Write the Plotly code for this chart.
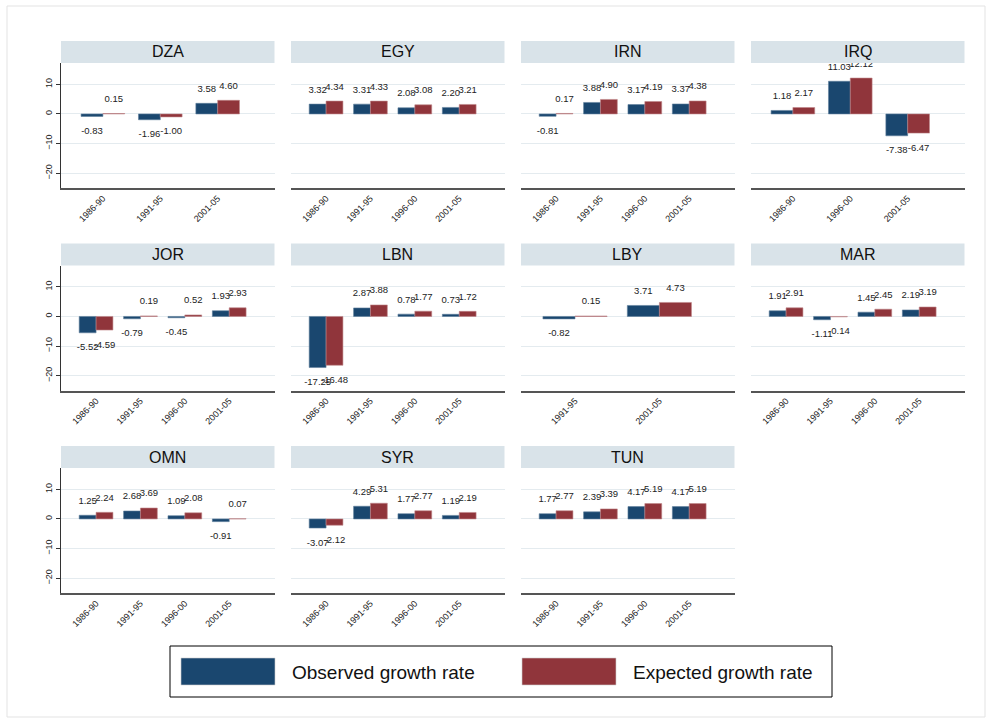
import plotly.graph_objects as go

W, H = 988, 723

# ---------------- data ----------------
countries = ["DZA", "EGY", "IRN", "IRQ", "JOR", "LBN", "LBY", "MAR", "OMN", "SYR", "TUN"]

dza_periods = ["1986-90", "1991-95", "2001-05"]
dza_observed = [-0.83, -1.96, 3.58]
dza_expected = [0.15, -1.00, 4.60]

egy_periods = ["1986-90", "1991-95", "1996-00", "2001-05"]
egy_observed = [3.32, 3.31, 2.08, 2.20]
egy_expected = [4.34, 4.33, 3.08, 3.21]

irn_periods = ["1986-90", "1991-95", "1996-00", "2001-05"]
irn_observed = [-0.81, 3.88, 3.17, 3.37]
irn_expected = [0.17, 4.90, 4.19, 4.38]

irq_periods = ["1986-90", "1996-00", "2001-05"]
irq_observed = [1.18, 11.03, -7.38]
irq_expected = [2.17, 12.12, -6.47]

jor_periods = ["1986-90", "1991-95", "1996-00", "2001-05"]
jor_observed = [-5.52, -0.79, -0.45, 1.93]
jor_expected = [-4.59, 0.19, 0.52, 2.93]

lbn_periods = ["1986-90", "1991-95", "1996-00", "2001-05"]
lbn_observed = [-17.25, 2.87, 0.78, 0.73]
lbn_expected = [-16.48, 3.88, 1.77, 1.72]

lby_periods = ["1991-95", "2001-05"]
lby_observed = [-0.82, 3.71]
lby_expected = [0.15, 4.73]

mar_periods = ["1986-90", "1991-95", "1996-00", "2001-05"]
mar_observed = [1.91, -1.11, 1.45, 2.19]
mar_expected = [2.91, -0.14, 2.45, 3.19]

omn_periods = ["1986-90", "1991-95", "1996-00", "2001-05"]
omn_observed = [1.25, 2.68, 1.09, -0.91]
omn_expected = [2.24, 3.69, 2.08, 0.07]

syr_periods = ["1986-90", "1991-95", "1996-00", "2001-05"]
syr_observed = [-3.07, 4.29, 1.77, 1.19]
syr_expected = [-2.12, 5.31, 2.77, 2.19]

tun_periods = ["1986-90", "1991-95", "1996-00", "2001-05"]
tun_observed = [1.77, 2.39, 4.17, 4.17]
tun_expected = [2.77, 3.39, 5.19, 5.19]

y_ticks = [-20, -10, 0, 10]
series_names = ["Observed growth rate", "Expected growth rate"]

panels = [
    (dza_periods, dza_observed, dza_expected),
    (egy_periods, egy_observed, egy_expected),
    (irn_periods, irn_observed, irn_expected),
    (irq_periods, irq_observed, irq_expected),
    (jor_periods, jor_observed, jor_expected),
    (lbn_periods, lbn_observed, lbn_expected),
    (lby_periods, lby_observed, lby_expected),
    (mar_periods, mar_observed, mar_expected),
    (omn_periods, omn_observed, omn_expected),
    (syr_periods, syr_observed, syr_expected),
    (tun_periods, tun_observed, tun_expected),
]

# ---------------- style ----------------
BLUE = "#1a476f"
RED = "#90353b"
HEADER = "#d9e3e9"
GRID = "#e4ebef"
FONT = "Liberation Sans, Arial, sans-serif"
TXT = "#222222"

# pads (in category units) left / right of first / last group, by group count
PADS = {2: (0.64, 0.89), 3: (0.73, 0.99), 4: (0.79, 1.02)}
BAR_W = 0.38
Y_RANGE = [-25, 17.2]
LABEL_OFF_POS = 4.7   # value-label offset in y units (~14px)
LABEL_OFF_NEG = 5.1

PANEL_W = 213.5
PANEL_H = 125
HEAD_H = 22


def px_x(x):
    return x / W


def px_y(y):
    return 1 - y / H


fig = go.Figure()
shapes = []
annotations = []
layout_axes = {}

for k, (country, (periods, obs, exp)) in enumerate(zip(countries, panels)):
    r, c = divmod(k, 4)
    left = 61 + 230 * c
    top = 63 + 202.5 * r
    n = len(periods)
    idx = list(range(n))
    ax = "" if k == 0 else str(k + 1)
    xa, ya = "x" + ax, "y" + ax

    fig.add_trace(go.Bar(
        x=idx, y=obs, width=BAR_W, offset=-BAR_W, name=series_names[0],
        marker=dict(color=BLUE, line=dict(color="#5f7f9c", width=0.6)),
        xaxis=xa, yaxis=ya, showlegend=False, hoverinfo="y"))
    fig.add_trace(go.Bar(
        x=idx, y=exp, width=BAR_W, offset=0, name=series_names[1],
        marker=dict(color=RED, line=dict(color="#c0868a", width=0.6)),
        xaxis=xa, yaxis=ya, showlegend=False, hoverinfo="y"))
    for vals, shift in ((obs, -BAR_W / 2), (exp, BAR_W / 2)):
        fig.add_trace(go.Scatter(
            x=[i + shift for i in idx],
            y=[v + (LABEL_OFF_POS if v >= 0 else -LABEL_OFF_NEG) for v in vals],
            text=[f"{v:.2f}" for v in vals], mode="text",
            textposition="middle center",
            textfont=dict(size=9.5, color=TXT, family=FONT),
            cliponaxis=True, xaxis=xa, yaxis=ya, showlegend=False, hoverinfo="skip"))

    padl, padr = PADS[n]
    layout_axes["xaxis" + ax] = dict(
        domain=[px_x(left), px_x(left + PANEL_W)], anchor=ya,
        range=[-padl, n - 1 + padr], tickvals=idx, ticktext=periods,
        tickangle=-45, tickfont=dict(size=9, color=TXT, family=FONT),
        showgrid=False, zeroline=False, showline=True, linecolor="#555555",
        linewidth=1.5, ticks="", fixedrange=True)
    layout_axes["yaxis" + ax] = dict(
        domain=[px_y(top + PANEL_H), px_y(top)], anchor=xa,
        range=Y_RANGE, tickvals=y_ticks, showgrid=True, gridcolor=GRID,
        gridwidth=1, zeroline=False, showticklabels=(c == 0),
        showline=(c == 0), linecolor="#333333", linewidth=1,
        ticks="outside" if c == 0 else "", ticklen=4, tickcolor="#333333",
        tickangle=-90, tickfont=dict(size=9, color=TXT, family=FONT),
        fixedrange=True)

    shapes.append(dict(type="rect", xref="paper", yref="paper",
                       x0=px_x(left), x1=px_x(left + PANEL_W),
                       y0=px_y(top), y1=px_y(top - HEAD_H),
                       fillcolor=HEADER, line=dict(width=0), layer="below"))
    annotations.append(dict(xref="paper", yref="paper",
                            x=px_x(left + PANEL_W / 2), y=px_y(top - HEAD_H / 2),
                            text=country, showarrow=False, xanchor="center",
                            yanchor="middle",
                            font=dict(size=16, color="#111111", family=FONT)))

# outer frame
shapes.append(dict(type="rect", xref="paper", yref="paper",
                   x0=px_x(7), x1=px_x(985), y0=px_y(717), y1=px_y(6),
                   line=dict(color="#e3e3e3", width=1), layer="below"))

# legend
shapes.append(dict(type="rect", xref="paper", yref="paper",
                   x0=px_x(170), x1=px_x(832), y0=px_y(697), y1=px_y(646),
                   line=dict(color="#000000", width=1), fillcolor="white", layer="below"))
for (sx, tx), col, name in zip(((181, 290), (522, 631)), (BLUE, RED), series_names):
    shapes.append(dict(type="rect", xref="paper", yref="paper",
                       x0=px_x(sx), x1=px_x(sx + 94), y0=px_y(685), y1=px_y(658),
                       fillcolor=col, line=dict(width=0.6, color="#cccccc")))
    annotations.append(dict(xref="paper", yref="paper", x=px_x(tx), y=px_y(672),
                            text=name, showarrow=False, xanchor="left",
                            yanchor="middle",
                            font=dict(size=19, color="#111111", family=FONT)))

fig.update_layout(
    width=W, height=H, margin=dict(l=0, r=0, t=0, b=0),
    paper_bgcolor="white", plot_bgcolor="white",
    barmode="overlay", showlegend=False,
    shapes=shapes, annotations=annotations, **layout_axes)

fig.write_html("out.html")
